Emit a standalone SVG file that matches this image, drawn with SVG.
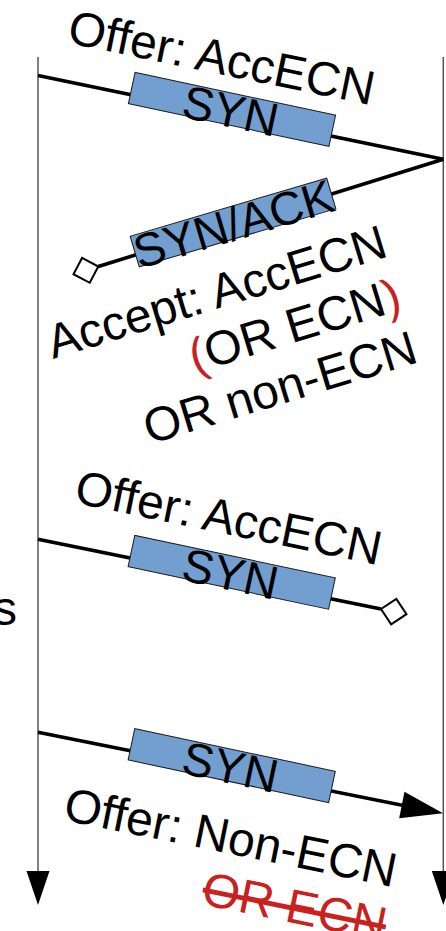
<svg xmlns="http://www.w3.org/2000/svg" width="446" height="931" viewBox="0 0 446 931">
  <style>
    .lifeline { stroke: #555; stroke-width: 1.5; fill: none; }
    .msg { stroke: #000; stroke-width: 3.6; fill: none; }
    .seg { fill: #729fcf; stroke: #1a1a1a; stroke-width: 1; }
    .t { font-family: "Liberation Sans", Arial, sans-serif; font-size: 48px; fill: #000; }
    .s47 { font-size: 47px; }
    .mid { text-anchor: middle; }
    .end { text-anchor: end; }
    .red { fill: #c9211e; }
  </style>
  <defs>
    <marker id="diamond" markerUnits="userSpaceOnUse" viewBox="-2 -15 30 30" refX="0" refY="0" markerWidth="30" markerHeight="30" orient="auto" overflow="visible">
      <path d="M0,0 L13,-13 L26,0 L13,13 Z" fill="#fff" stroke="#000" stroke-width="2"/>
    </marker>
    <marker id="arrow" markerUnits="userSpaceOnUse" viewBox="-24 -15 46 30" refX="0" refY="0" markerWidth="46" markerHeight="30" orient="auto" overflow="visible">
      <path d="M20,0 L-22,-13.5 L-22,13.5 Z" fill="#000"/>
    </marker>
    <marker id="lifeArrow" markerUnits="userSpaceOnUse" viewBox="0 -12 36 24" refX="0" refY="0" markerWidth="36" markerHeight="24" orient="auto" overflow="visible">
      <path d="M34,0 L0,-11.5 L0,11.5 Z" fill="#000"/>
    </marker>
  </defs>

  <!-- lifelines and message lines -->
  <g id="connectors">
    <path class="lifeline" d="M38,57 V871" marker-end="url(#lifeArrow)"/>
    <path class="lifeline" d="M443.3,57 V871" marker-end="url(#lifeArrow)"/>
    <path class="msg" d="M38,75.5 L443.3,159.3"/>
    <path class="msg" d="M443.3,159.3 L98.3,266.5" marker-end="url(#diamond)"/>
    <path class="msg" d="M38,539.3 L381,609" marker-end="url(#diamond)"/>
    <path class="msg" d="M38,732.3 L423.4,809.4" marker-end="url(#arrow)"/>
  </g>

  <!-- packet segments -->
  <g id="syn1" transform="translate(232,109.4) rotate(12)">
    <rect class="seg" x="-102.5" y="-16" width="205" height="32"/>
    <text class="t s47 mid" x="-1" y="18">SYN</text>
  </g>
  <g id="synack" transform="translate(233,222.5) rotate(-16.5)">
    <rect class="seg" x="-102.5" y="-16" width="205" height="32"/>
    <text class="t s47 mid" x="0" y="18">SYN/ACK</text>
  </g>
  <g id="syn2" transform="translate(231.7,572.3) rotate(12)">
    <rect class="seg" x="-102.5" y="-16" width="205" height="32"/>
    <text class="t s47 mid" x="-1" y="18">SYN</text>
  </g>
  <g id="syn3" transform="translate(231.7,765.6) rotate(12)">
    <rect class="seg" x="-102.5" y="-16" width="205" height="32"/>
    <text class="t s47 mid" x="-1" y="18">SYN</text>
  </g>

  <!-- labels -->
  <g id="offer1" transform="translate(66,42.6) rotate(11.6)">
    <text class="t" x="0" y="0">Offer: AccECN</text>
  </g>
  <g id="accept" transform="translate(53,359) rotate(-17)">
    <text class="t" x="0" y="0">Accept: AccECN</text>
    <text class="t end" x="350" y="55"><tspan class="red">(</tspan>OR ECN<tspan class="red">)</tspan></text>
    <text class="t end" x="350" y="110">OR non-ECN</text>
  </g>
  <g id="offer2" transform="translate(73,502.6) rotate(11.6)">
    <text class="t" x="0" y="0">Offer: AccECN</text>
  </g>
  <g id="offer3" transform="translate(62,819.7) rotate(11.5)">
    <text class="t" x="0" y="0">Offer: Non-ECN</text>
    <text class="t end red" x="338.7" y="55" text-decoration="line-through">OR ECN</text>
  </g>
  <g id="side-label">
    <text class="t end" x="17" y="625">s</text>
  </g>
</svg>
